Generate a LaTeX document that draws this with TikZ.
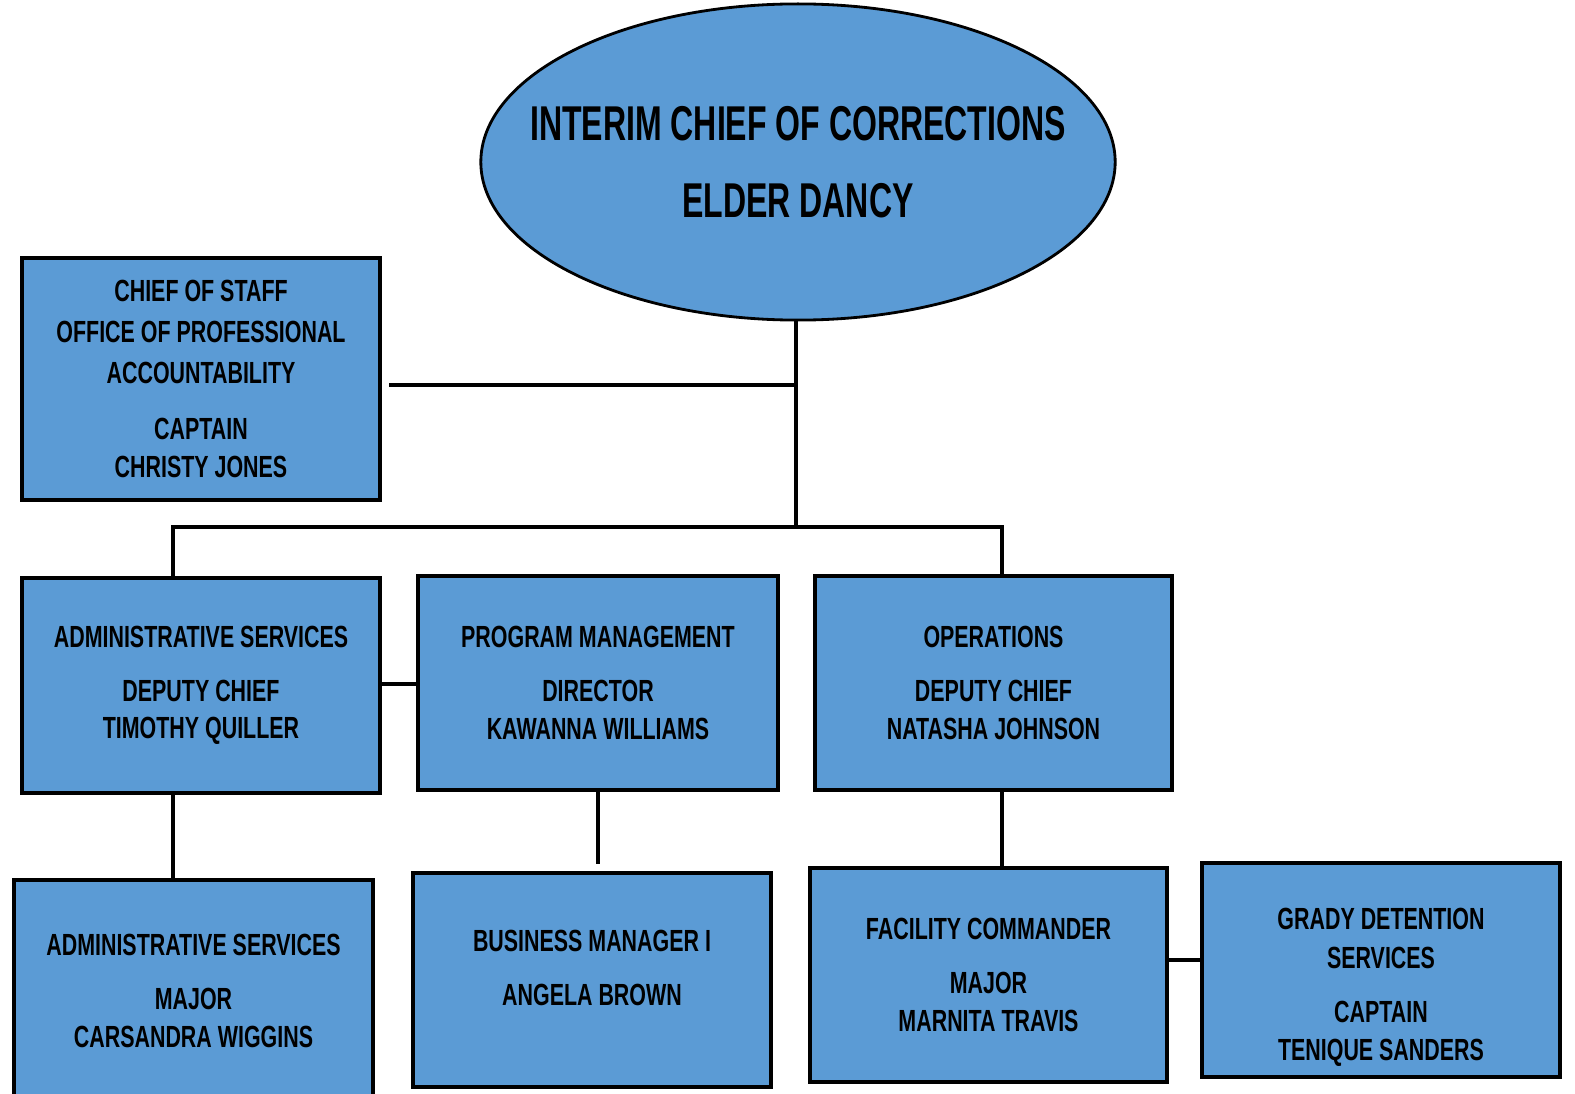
\documentclass[tikz,border=0pt]{standalone}
\usepackage{fontspec}
\usetikzlibrary{shapes.geometric}
\newfontfamily\boxfont[FakeStretch=0.70]{Liberation Sans}
\newfontfamily\headfont[FakeStretch=0.655]{Liberation Sans}
\definecolor{orgblue}{RGB}{91,155,213}
\begin{document}
\begin{tikzpicture}[x=0.01cm,y=-0.01cm,
  unit/.style={draw=black,line width=1.1pt,fill=orgblue,align=center,inner sep=0pt,
    font={\boxfont\bfseries\fontsize{8.7}{10.6}\selectfont}},
  head/.style={ellipse,draw=black,line width=0.8pt,fill=orgblue,inner sep=0pt,
    minimum width=6.34cm,minimum height=3.16cm},
  headtext/.style={align=center,inner sep=0pt,font={\headfont\bfseries\fontsize{13.9}{22}\selectfont}},
  link/.style={line width=1.05pt}]
\useasboundingbox (0,0) rectangle (1575,1094);
\node[head] (chief) at (798,162) {};
\node[headtext] (chieftext) at (chief.center) {INTERIM CHIEF OF CORRECTIONS\\ELDER DANCY};
\node[unit,minimum width=3.58cm,minimum height=2.42cm] (staff) at (201,379)
  {CHIEF OF STAFF\\[1pt]OFFICE OF PROFESSIONAL\\[1pt]ACCOUNTABILITY\\[5.4pt]CAPTAIN\\CHRISTY JONES};
\node[unit,minimum width=3.58cm,minimum height=2.15cm] (admin) at (201,685.5)
  {ADMINISTRATIVE SERVICES\\[4.8pt]DEPUTY CHIEF\\TIMOTHY QUILLER};
\node[unit,minimum width=3.60cm,minimum height=2.14cm] (prog) at (598,683)
  {PROGRAM MANAGEMENT\\[4.8pt]DIRECTOR\\KAWANNA WILLIAMS};
\node[unit,minimum width=3.57cm,minimum height=2.14cm] (ops) at (993.5,683)
  {OPERATIONS\\[4.8pt]DEPUTY CHIEF\\NATASHA JOHNSON};
\node[unit,minimum width=3.59cm,minimum height=2.22cm] (adminmaj) at (193.5,991)
  {ADMINISTRATIVE SERVICES\\[4.8pt]MAJOR\\CARSANDRA WIGGINS};
\node[unit,minimum width=3.58cm,minimum height=2.14cm,text depth=7pt] (biz) at (592,980)
  {BUSINESS MANAGER I\\[4.8pt]ANGELA BROWN};
\node[unit,minimum width=3.57cm,minimum height=2.14cm] (fac) at (988.5,975)
  {FACILITY COMMANDER\\[4.8pt]MAJOR\\MARNITA TRAVIS};
\node[unit,minimum width=3.58cm,minimum height=2.14cm,text height=53pt] (grady) at (1381,970)
  {GRADY DETENTION\\[0.5pt]SERVICES\\[4.8pt]CAPTAIN\\TENIQUE SANDERS};
\coordinate (bus) at (796,527);
\coordinate (tap) at (796,385);
\coordinate (lbus) at (173,527);
\coordinate (rbus) at (1002,527);
\coordinate (ap) at (400,684);
\coordinate (fg) at (1185,960);
\draw[link] (chief.south -| bus) -- (bus);
\draw[link] ([xshift=2pt]staff.east |- tap) -- (tap);
\draw[link] (admin.north -| lbus) -- (lbus) -- (rbus) -- (ops.north -| rbus);
\draw[link] (admin.east |- ap) -- (prog.west |- ap);
\draw[link] (admin.south -| lbus) -- (adminmaj.north -| lbus);
\draw[link] (prog.south) -- ([yshift=2pt]biz.north -| prog.south);
\draw[link] (ops.south -| rbus) -- (fac.north -| rbus);
\draw[link] (fac.east |- fg) -- (grady.west |- fg);
\end{tikzpicture}
\end{document}
